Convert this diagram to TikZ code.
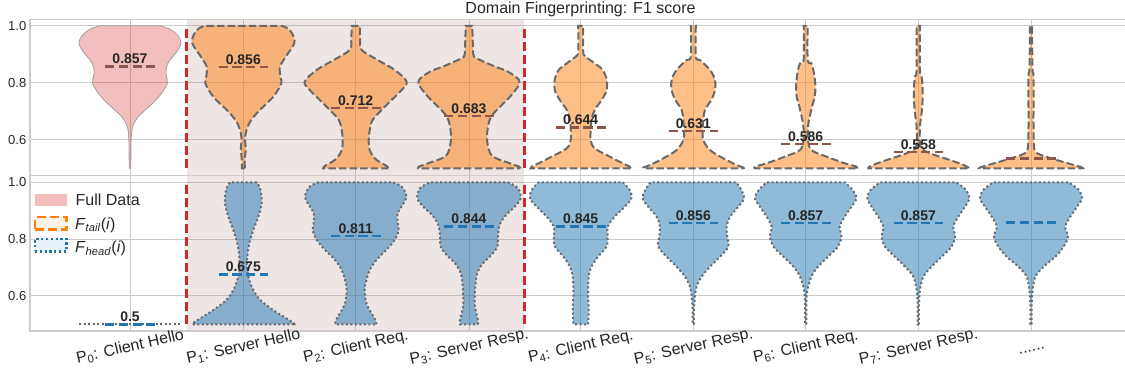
\documentclass[tikz,border=0pt]{standalone}
\usepackage{fontspec}
\setmainfont{Liberation Sans}

\definecolor{tabred}{RGB}{214,39,40}
\definecolor{taborange}{RGB}{255,127,14}
\definecolor{tabblue}{RGB}{31,119,180}
\definecolor{tabbrown}{RGB}{140,86,75}
\definecolor{gridgray}{RGB}{204,204,204}
\definecolor{edgegray}{RGB}{105,105,105}
\definecolor{inkgray}{RGB}{38,38,38}

\newcommand\tickfont{\fontsize{13}{15}\selectfont}
\newcommand\labfont{\fontsize{16}{19}\selectfont}
\newcommand\annfont{\fontsize{14}{16}\selectfont\bfseries}
\newcommand\legfont{\fontsize{16}{19}\selectfont}
\newcommand\ttlfont{\fontsize{16}{19}\selectfont}

% violin outline: #1 style, #2 centre x, #3 value/half-width pairs from bottom to top
\newcommand\drawviolin[3]{%
  \gdef\vright{}\gdef\vleft{}%
  \foreach \v/\w in {#3}{%
    \pgfmathsetmacro\xr{#2+\w}%
    \pgfmathsetmacro\xl{#2-\w}%
    \xdef\vright{\vright(\xr,\v)}%
    \xdef\vleft{(\xl,\v)\vleft}%
  }%
  \edef\vcmd{\noexpand\path[#1] plot[smooth,tension=0.55] coordinates {\vright} -- plot[smooth,tension=0.55] coordinates {\vleft} -- cycle;}%
  \vcmd
}

% mean marker with its value: #1 style, #2 node name, #3 centre x, #4 value, #5 text
\newcommand\meanmark[5]{%
  \draw[#1] (#3-24.8,#4) -- (#3+24.8,#4);
  \node[annot] (#2) at (#3,#4) {#5};
}

% rotated category label whose bounding box hangs below the axis, centred on the tick
\newlength\xlabw
\newcommand\xlab[3]{%
  \settowidth\xlabw{\labfont #3}%
  \pgfmathsetmacro\xlaby{48 - 0.5*(\xlabw*sin(12.5) + 17.9*cos(12.5))}%
  \node[xlabel] (#1) at (#2,\xlaby) {#3};
}

\begin{document}
\begin{tikzpicture}[x=1pt,y=1pt,
  gridline/.style={draw=gridgray, line width=1pt},
  frameline/.style={draw=gridgray, line width=1.25pt},
  spanband/.style={fill=tabbrown, fill opacity=0.15},
  fullviolin/.style={fill=tabred, fill opacity=0.3, draw=gray!75, line width=0.8pt},
  tailviolin/.style={fill=taborange, fill opacity=0.5, draw=edgegray, line width=2pt, dash pattern=on 7.4pt off 3.2pt},
  headviolin/.style={fill=tabblue, fill opacity=0.5, draw=edgegray, line width=2pt, dash pattern=on 2pt off 2.5pt},
  tailmean/.style={draw=tabbrown, line width=2.5pt, dash pattern=on 9.25pt off 4.5pt},
  headmean/.style={draw=tabblue, line width=2.5pt, dash pattern=on 9.25pt off 4.5pt},
  splitline/.style={draw=tabred, line width=2.5pt, dash pattern=on 9pt off 4pt},
  annot/.style={font=\annfont, text=inkgray, anchor=base, inner sep=0pt, yshift=2.7pt},
  ytick/.style={font=\tickfont, text=inkgray, anchor=east, inner sep=0pt},
  xlabel/.style={font=\labfont, text=inkgray, rotate=12.5, anchor=center, inner sep=0pt, text height=14.5pt, text depth=3.4pt},
  legtext/.style={font=\legfont, text=inkgray, anchor=base west, inner sep=0pt},
  legpatch/.style={minimum width=31.7pt, minimum height=12.2pt, inner sep=0pt},
]
\useasboundingbox (0,0) rectangle (1125,385);

% ---------- grid ----------
\begin{scope}[shift={(0pt,74.2pt)}, y=285pt]
  \foreach \g in {0.6,0.8,1.0} \draw[gridline] (30,\g) -- (1135,\g);
\end{scope}
\begin{scope}[shift={(0pt,-81.3pt)}, y=284pt]
  \foreach \g in {0.6,0.8,1.0} \draw[gridline] (30,\g) -- (1135,\g);
\end{scope}
\foreach \cx in {130,243.3,355.7,469,580.7,693.3,805.7,918.3,1031}
  \draw[gridline] (\cx,54) -- (\cx,365.5);

% highlighted packets P1..P3
\fill[spanband] (186.7,54) rectangle (524.3,365.5);

% axes frames
\draw[frameline] (30,209.5) rectangle (1135,365.5);
\draw[frameline] (30,54) rectangle (1135,209.5);

% ---------- upper panel: full data and F_tail ----------
\begin{scope}[shift={(0pt,74.2pt)}, y=285pt]
  \drawviolin{fullviolin}{130}{0.5/0.8, 0.58/1, 0.62/1.5, 0.65/3, 0.68/8, 0.71/17, 0.74/26, 0.77/33, 0.80/37.5, 0.83/36, 0.857/36.5, 0.88/40, 0.91/47, 0.939/51, 0.965/48, 0.988/40, 1.0/30}
  \drawviolin{tailviolin}{243.3}{0.5/1.5, 0.53/1.5, 0.57/2.5, 0.6/1.7, 0.635/3.3, 0.67/8, 0.705/16.7, 0.751/30, 0.798/38, 0.822/37, 0.857/36.7, 0.892/42.5, 0.939/51, 0.972/49, 0.992/44, 1.0/38}
  \drawviolin{tailviolin}{355.7}{0.5/32.5, 0.508/31, 0.52/25, 0.535/19, 0.564/14, 0.599/13, 0.634/14, 0.67/17, 0.705/26, 0.74/36, 0.775/46, 0.804/51, 0.845/39, 0.88/22, 0.915/6, 0.95/4.5, 1.0/4}
  \drawviolin{tailviolin}{469}{0.5/51, 0.506/50, 0.5175/41, 0.541/24, 0.576/19, 0.611/18, 0.646/19, 0.681/22, 0.716/31, 0.751/41, 0.787/49, 0.81/50, 0.839/39, 0.857/26, 0.88/11, 0.892/5, 0.92/4, 1.0/3.3}
  \drawviolin{tailviolin}{580.7}{0.5/50, 0.506/49, 0.5175/42, 0.541/29, 0.57/14, 0.599/10, 0.635/10, 0.67/10.7, 0.705/14, 0.74/21, 0.775/26, 0.81/26, 0.845/22, 0.868/14, 0.892/5, 0.91/2.5, 1.0/2.5}
  \drawviolin{tailviolin}{693.3}{0.5/50, 0.503/50, 0.512/43, 0.535/30, 0.564/16.7, 0.599/10, 0.635/9.3, 0.67/10, 0.705/11.7, 0.74/18, 0.775/21.7, 0.81/21.7, 0.845/16.7, 0.88/6.7, 0.892/2.5, 1.0/2.5}
  \drawviolin{tailviolin}{805.7}{0.5/50.7, 0.506/50.7, 0.5175/39, 0.541/20.7, 0.564/5.7, 0.599/2.3, 0.646/2.3, 0.681/4, 0.716/6.3, 0.751/9, 0.787/9.7, 0.833/8.3, 0.868/5.7, 0.88/2, 1.0/2}
  \drawviolin{tailviolin}{918.3}{0.5/50, 0.503/50, 0.512/45, 0.529/31.7, 0.553/11.7, 0.576/2.3, 0.646/1.7, 0.693/3.3, 0.74/4.3, 0.787/4.3, 0.822/3.3, 0.845/1.7, 1.0/1.7}
  \drawviolin{tailviolin}{1031}{0.5/51, 0.503/51, 0.5175/37, 0.535/20, 0.553/6, 0.576/3, 0.65/2.5, 0.82/2.5, 0.85/1.5, 1.0/1}

  \meanmark{tailmean}{m0}{130}{0.857}{0.857}
  \meanmark{tailmean}{t1}{243.3}{0.856}{0.856}
  \meanmark{tailmean}{t2}{355.7}{0.712}{0.712}
  \meanmark{tailmean}{t3}{469}{0.683}{0.683}
  \meanmark{tailmean}{t4}{580.7}{0.644}{0.644}
  \meanmark{tailmean}{t5}{693.3}{0.631}{0.631}
  \meanmark{tailmean}{t6}{805.7}{0.586}{0.586}
  \meanmark{tailmean}{t7}{918.3}{0.558}{0.558}
  \draw[tailmean] (1031-24.8,0.535) -- (1031+24.8,0.535);

  \draw[splitline] (186.7,0.5) -- (186.7,1.0);
  \draw[splitline] (524.3,0.5) -- (524.3,1.0);

  \node[ytick] (ya1) at (26.5,1.0) {1.0};
  \node[ytick] (ya2) at (26.5,0.8) {0.8};
  \node[ytick] (ya3) at (26.5,0.6) {0.6};
\end{scope}

% ---------- lower panel: F_head ----------
\begin{scope}[shift={(0pt,-81.3pt)}, y=284pt]
  \draw[draw=edgegray, line width=2pt, dash pattern=on 2pt off 2.5pt] (130-50.7,0.5) -- (130+50.7,0.5);
  \drawviolin{headviolin}{243.3}{0.5/50.7, 0.5035/50.7, 0.521/43, 0.55/30, 0.586/16.7, 0.621/10, 0.656/6, 0.691/4, 0.738/4, 0.785/6, 0.832/10, 0.879/15, 0.926/18.3, 0.973/17.3, 1.0/13.3}
  \drawviolin{headviolin}{355.7}{0.5/20.7, 0.515/19.7, 0.539/15.7, 0.574/10.7, 0.621/9, 0.656/10.7, 0.691/14, 0.7265/20.7, 0.762/30.7, 0.797/39, 0.832/43, 0.856/42, 0.891/42, 0.914/45.7, 0.9495/50.7, 0.985/46, 1.0/37}
  \drawviolin{headviolin}{469}{0.5/9, 0.515/9, 0.539/7.3, 0.574/5.7, 0.633/6.3, 0.68/8.3, 0.715/14, 0.744/22.3, 0.7735/28.3, 0.809/29, 0.85/30.7, 0.885/37, 0.914/45.7, 0.9437/51.7, 0.979/49, 1.0/39}
  \drawviolin{headviolin}{580.7}{0.5/7.3, 0.55/8, 0.609/7.3, 0.668/8, 0.703/10.7, 0.738/17.3, 0.7735/25.7, 0.809/27, 0.844/27, 0.879/34, 0.914/44, 0.9437/50.7, 0.973/49, 1.0/42}
  \drawviolin{headviolin}{693.3}{0.5/0.7, 0.55/0.7, 0.597/1.7, 0.633/3.3, 0.668/8.3, 0.703/16.7, 0.738/26.7, 0.7735/35, 0.809/34, 0.844/33.3, 0.879/36.7, 0.914/45, 0.9437/50.7, 0.973/48, 1.0/43}
  \drawviolin{headviolin}{805.7}{0.5/0.7, 0.574/0.7, 0.621/1.7, 0.668/5.7, 0.703/12.3, 0.738/22.3, 0.7735/32.3, 0.809/35.7, 0.844/34, 0.879/39, 0.914/45.7, 0.9437/50.7, 0.973/47, 1.0/39}
  \drawviolin{headviolin}{918.3}{0.5/0.7, 0.574/0.7, 0.621/1.7, 0.668/5, 0.703/13.3, 0.738/23.3, 0.7735/33.3, 0.809/36.7, 0.844/35, 0.879/40, 0.914/46.7, 0.9437/51, 0.973/47.7, 1.0/38}
  \drawviolin{headviolin}{1031}{0.5/0.7, 0.574/0.7, 0.621/1.7, 0.668/4.3, 0.703/12.7, 0.738/24.3, 0.7735/32.7, 0.809/37, 0.844/34.3, 0.879/39.3, 0.914/46, 0.9437/51, 0.973/47.7, 1.0/37.7}

  \meanmark{headmean}{h0}{130}{0.5}{0.5}
  \meanmark{headmean}{h1}{243.3}{0.675}{0.675}
  \meanmark{headmean}{h2}{355.7}{0.811}{0.811}
  \meanmark{headmean}{h3}{469}{0.844}{0.844}
  \meanmark{headmean}{h4}{580.7}{0.845}{0.845}
  \meanmark{headmean}{h5}{693.3}{0.856}{0.856}
  \meanmark{headmean}{h6}{805.7}{0.857}{0.857}
  \meanmark{headmean}{h7}{918.3}{0.857}{0.857}
  \draw[headmean] (1031-24.8,0.859) -- (1031+24.8,0.859);

  \draw[splitline] (186.7,0.5) -- (186.7,1.0);
  \draw[splitline] (524.3,0.5) -- (524.3,1.0);

  \node[ytick] (yb1) at (26.5,1.0) {1.0};
  \node[ytick] (yb2) at (26.5,0.8) {0.8};
  \node[ytick] (yb3) at (26.5,0.6) {0.6};
\end{scope}

% ---------- legend ----------
\node[legpatch, fill=tabred, fill opacity=0.3] (lgfull) at (50.85,185.2) {};
\node[legpatch, fill=taborange!10, draw=taborange, line width=2.6pt, dash pattern=on 9pt off 4pt] (lgtail) at (50.85,161.7) {};
\node[legpatch, fill=tabblue!10, draw=tabblue, line width=2.6pt, dash pattern=on 2.2pt off 2.6pt] (lghead) at (50.85,139.7) {};
\node[legtext] (lgfulltxt) at (75.5,179.2) {Full Data};
\node[legtext] (lgtailtxt) at (75,155.8) {\textit{F}\textsubscript{\textit{tail}}(\textit{i})};
\node[legtext] (lgheadtxt) at (75,132.2) {\textit{F}\textsubscript{\textit{head}}(\textit{i})};

% ---------- category labels and title ----------
\xlab{lab0}{130}{P\textsubscript{0}: Client Hello}
\xlab{lab1}{243.3}{P\textsubscript{1}: Server Hello}
\xlab{lab2}{355.7}{P\textsubscript{2}: Client Req.}
\xlab{lab3}{469}{P\textsubscript{3}: Server Resp.}
\xlab{lab4}{580.7}{P\textsubscript{4}: Client Req.}
\xlab{lab5}{693.3}{P\textsubscript{5}: Server Resp.}
\xlab{lab6}{805.7}{P\textsubscript{6}: Client Req.}
\xlab{lab7}{918.3}{P\textsubscript{7}: Server Resp.}
\xlab{lab8}{1031}{......}

\node[font=\ttlfont, text=inkgray, anchor=base, inner sep=0pt] (title) at (580.5,371) {Domain Fingerprinting: F1 score};
\end{tikzpicture}
\end{document}
